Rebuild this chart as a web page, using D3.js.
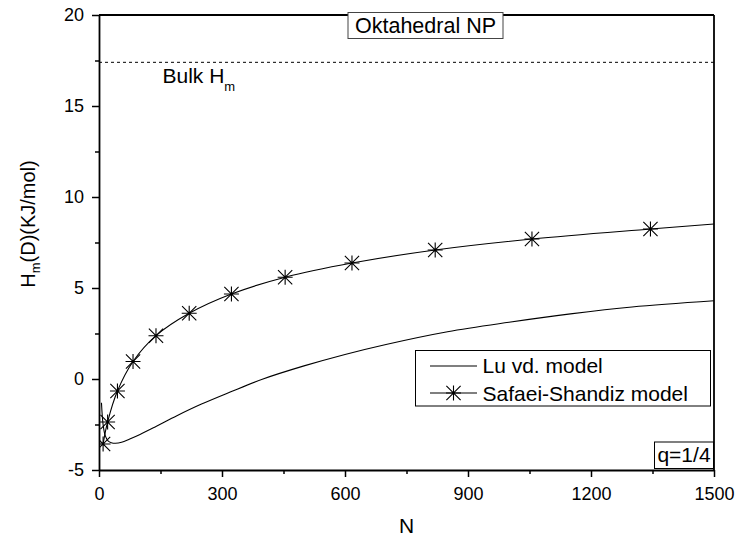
<!DOCTYPE html>
<html><head><meta charset="utf-8">
<script src="https://cdn.jsdelivr.net/npm/d3@7"></script>
<style>
body{margin:0;background:#fff}
svg{display:block}
text{font-family:"Liberation Sans",Arial,sans-serif;fill:#000}
</style>
</head><body>
<svg id="chart" width="740" height="540"></svg>
<script>
// ---- data ----
const luN = [6, 10, 15, 22, 30, 40, 55, 75, 100, 140, 190, 250, 320, 400, 500, 600, 700, 850, 1000, 1150, 1300, 1500];
const luH = [-1.3, -2.5, -3.1, -3.4, -3.5, -3.53, -3.48, -3.3, -3.05, -2.6, -2.02, -1.38, -0.72, 0.0, 0.72, 1.35, 1.9, 2.6, 3.12, 3.58, 3.96, 4.3];
const ssN = [10, 21, 45, 83, 139, 220, 323, 454, 617, 820, 1056, 1345];
const ssH = [-3.57, -2.36, -0.66, 0.96, 2.38, 3.61, 4.67, 5.59, 6.37, 7.09, 7.69, 8.24];
const ssLineN = [1500];
const ssLineH = [8.52];
const bulkH = 17.4;
const xTicks = [0, 300, 600, 900, 1200, 1500];
const xMinor = [150, 450, 750, 1050, 1350];
const yTicks = [-5, 0, 5, 10, 15, 20];
const yMinor = [-2.5, 2.5, 7.5, 12.5, 17.5];
const seriesNames = ["Lu vd. model", "Safaei-Shandiz model"];
const titleText = "Oktahedral NP";
const qText = "q=1/4";

// ---- layout ----
const L = 99, R = 714, T = 15, B = 470;
const svg = d3.select("#chart");
const x = d3.scaleLinear().domain([0, 1500]).range([L, R]);
const y = d3.scaleLinear().domain([-5, 20]).range([B, T]);

svg.append("defs").append("clipPath").attr("id", "clip")
  .append("rect").attr("x", L).attr("y", T).attr("width", R - L).attr("height", B - T);

const asterisk = {
  draw(ctx, size) {
    const r = Math.sqrt(size) / 2;
    ctx.moveTo(0, -r); ctx.lineTo(0, r);
    ctx.moveTo(-r, 0); ctx.lineTo(r, 0);
    const d = r * 0.95;
    ctx.moveTo(-d, -d); ctx.lineTo(d, d);
    ctx.moveTo(-d, d); ctx.lineTo(d, -d);
  }
};
const starPath = d3.symbol().type(asterisk).size(225)();

// bulk dashed line
svg.append("line")
  .attr("x1", L).attr("x2", R).attr("y1", y(bulkH)).attr("y2", y(bulkH))
  .attr("stroke", "#000").attr("stroke-width", 1).attr("stroke-dasharray", "3,3");

const plot = svg.append("g").attr("clip-path", "url(#clip)");
const line = d3.line().x(d => x(d[0])).y(d => y(d[1])).curve(d3.curveCatmullRom.alpha(0.5));

const luData = luN.map((n, i) => [n, luH[i]]);
const ssData = ssN.map((n, i) => [n, ssH[i]]);
const ssLine = ssData.concat(ssLineN.map((n, i) => [n, ssLineH[i]]));

plot.append("path").attr("d", line(luData)).attr("fill", "none").attr("stroke", "#000").attr("stroke-width", 1.1);
plot.append("path").attr("d", line(ssLine)).attr("fill", "none").attr("stroke", "#000").attr("stroke-width", 1.1);
plot.selectAll(".star").data(ssData).enter().append("path")
  .attr("d", starPath)
  .attr("transform", d => `translate(${x(d[0])},${y(d[1])})`)
  .attr("fill", "none").attr("stroke", "#000").attr("stroke-width", 1.1);

// axes
const fs = 18;
const fmt = d => String(d);
svg.append("g").attr("transform", `translate(0,${B})`)
  .call(d3.axisBottom(x).tickValues(xTicks).tickSize(7).tickSizeOuter(0).tickPadding(10).tickFormat(fmt));
svg.append("g").attr("transform", `translate(0,${B})`)
  .call(d3.axisBottom(x).tickValues(xMinor).tickSize(4).tickSizeOuter(0).tickFormat(""))
  .select(".domain").remove();
svg.append("g").attr("transform", `translate(${L},0)`)
  .call(d3.axisLeft(y).tickValues(yTicks).tickSize(7).tickSizeOuter(0).tickPadding(8).tickFormat(fmt));
svg.append("g").attr("transform", `translate(${L},0)`)
  .call(d3.axisLeft(y).tickValues(yMinor).tickSize(4).tickSizeOuter(0).tickFormat(""))
  .select(".domain").remove();
svg.selectAll(".tick text").attr("font-size", fs).attr("font-family", '"Liberation Sans",Arial,sans-serif').attr("fill", "#000");
svg.selectAll(".tick line").attr("stroke", "#000").attr("stroke-width", 1.5);
svg.selectAll(".domain").attr("stroke", "#000").attr("stroke-width", 1.8);

// frame top/right
svg.append("line").attr("x1", L).attr("x2", R).attr("y1", T).attr("y2", T).attr("stroke", "#000").attr("stroke-width", 1.8);
svg.append("line").attr("x1", R).attr("x2", R).attr("y1", T).attr("y2", B).attr("stroke", "#000").attr("stroke-width", 1.8);

// axis titles
svg.append("text").attr("x", (L + R) / 2).attr("y", 533).attr("text-anchor", "middle").attr("font-size", 21).text("N");
const yl = svg.append("text").attr("transform", "translate(35,224) rotate(-90)").attr("text-anchor", "middle").attr("font-size", 20);
yl.append("tspan").text("H");
yl.append("tspan").attr("font-size", 13).attr("dy", 5).text("m");
yl.append("tspan").attr("dy", -5).text("(D)(KJ/mol)");

// bulk label
const bl = svg.append("text").attr("x", 162.5).attr("y", 82.5).attr("font-size", 21);
bl.append("tspan").text("Bulk H");
bl.append("tspan").attr("font-size", 13).attr("dy", 8).text("m");

// title box
svg.append("rect").attr("x", 348).attr("y", 12.5).attr("width", 155).attr("height", 26)
  .attr("fill", "#fff").attr("stroke", "#444").attr("stroke-width", 1);
svg.append("text").attr("x", 425.5).attr("y", 33).attr("text-anchor", "middle").attr("font-size", 21.5).text(titleText);

// q box
svg.append("rect").attr("x", 654.5).attr("y", 442).attr("width", 59).attr("height", 26.5)
  .attr("fill", "#fff").attr("stroke", "#000").attr("stroke-width", 1);
svg.append("text").attr("x", 684).attr("y", 462).attr("text-anchor", "middle").attr("font-size", 21).text(qText);

// legend
const lg = svg.append("g");
lg.append("rect").attr("x", 415.5).attr("y", 350.5).attr("width", 295).attr("height", 55.5)
  .attr("fill", "#fff").attr("stroke", "#000").attr("stroke-width", 1);
const rows = [{y: 366, base: 373, star: false}, {y: 393, base: 401, star: true}];
rows.forEach((r, i) => {
  lg.append("line").attr("x1", 430).attr("x2", 477).attr("y1", r.y).attr("y2", r.y).attr("stroke", "#000").attr("stroke-width", 1.1);
  if (r.star) lg.append("path").attr("d", starPath).attr("transform", `translate(453.5,${r.y})`)
    .attr("fill", "none").attr("stroke", "#000").attr("stroke-width", 1.1);
  lg.append("text").attr("x", 482.5).attr("y", r.base).attr("font-size", 21).text(seriesNames[i]);
});
</script>
</body></html>
